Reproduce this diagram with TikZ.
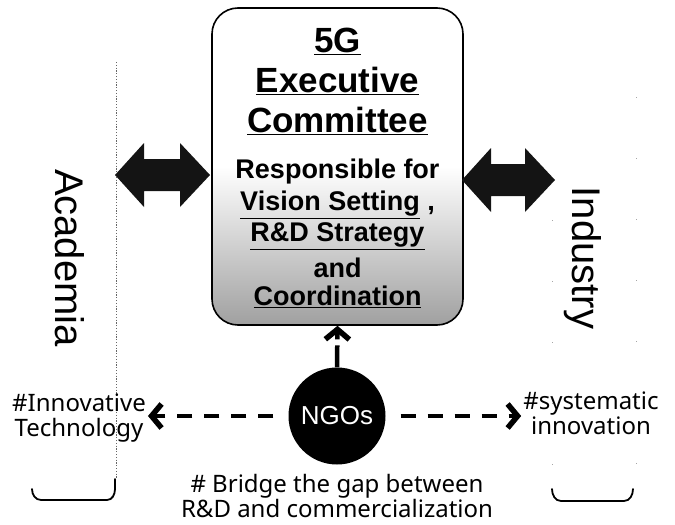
\documentclass[tikz,border=0pt]{standalone}
\usepackage{fontspec}
\setmainfont{Liberation Sans}
\newfontfamily\notefont{Noto Sans}
\usepackage{tikz}
\usetikzlibrary{arrows.meta, positioning}
\definecolor{boxgray}{RGB}{160, 160, 160}

\tikzset{
  execbox/.style={draw, line width=1.6pt, rounded corners=26pt, top color=white,
    bottom color=boxgray, middle color=white, minimum width=251pt, minimum height=317pt,
    inner sep=0pt},
  sidelabel/.style={font=\fontsize{40}{44}\selectfont, rotate=-90},
  fatarrow/.style={fill=black!92},
  ngobubble/.style={circle, fill=black, text=white, minimum size=97pt, inner sep=0pt,
    font=\fontsize{26}{30}\selectfont},
  notelabel/.style={align=center, inner sep=2pt, font=\notefont\fontsize{24}{25}\selectfont},
  dasharrow/.style={line width=4.5pt, dash pattern=on 15pt off 12pt,
    -{Straight Barb[length=10pt, width=24pt, line width=5.5pt]}},
  bracket/.style={line width=1.8pt, line cap=round},
  guide/.style={black!60, line width=0.7pt, dash pattern=on 1.2pt off 1.6pt}
}
\newcommand{\fatarrowat}[2]{\fill[fatarrow, shift={#1}] (0,0) -- (29,-32) -- (29,-16)
  -- (#2-30,-16) -- (#2-30,-32) -- (#2,0) -- (#2-30,32) -- (#2-30,16) -- (29,16)
  -- (29,32) -- cycle;}

\begin{document}
\begin{tikzpicture}[x=1pt, y=-1pt]
\useasboundingbox (0,0) rectangle (675,525);

\node[execbox] (exec) at (337.5,166.5) {\begin{minipage}[c][300pt][t]{248pt}\centering
  \vspace*{12pt}\fontsize{35}{40}\selectfont\bfseries
  \underline{5G}\\ \underline{Executive}\\ \underline{Committee}\par
  \vspace{15pt}\fontsize{27}{31}\selectfont
  Responsible for\\[1pt] \underline{Vision Setting} ,\\ \underline{R\&D Strategy}\\[5pt]
  and\\[-3pt] \underline{Coordination}\par
\end{minipage}};

\node[sidelabel] (acad) at (70,258) {Academia};
\node[sidelabel] (indus) at (583,258) {Industry};

\draw[guide] (116,62) -- (116,478);
\draw[black!35, line width=0.6pt, dash pattern=on 1pt off 60pt] (552,220) -- (552,480);
\draw[black!35, line width=0.6pt, dash pattern=on 1pt off 60pt] (636,97) -- (636,480);

\fatarrowat{(115,175)}{95}
\fatarrowat{(462,180)}{93}

\node[ngobubble] (ngo) at (337,416) {NGOs};

\node[notelabel] (innov) at (79,418) {\#Innovative\\Technology};
\node[notelabel] (sysinn) at (591,413) {\#systematic\\innovation};
\node[notelabel] (bridge) at (337,496) {\# Bridge the gap between\\R\&D and commercialization};

\draw[dasharrow, dash pattern=on 22pt off 6pt] (ngo.north) -- (exec.south);
\draw[dasharrow, shorten <=15pt] (ngo.west) -- (ngo.west -| innov.east);
\draw[dasharrow, shorten <=15pt] (ngo.east) -- (ngo.east -| sysinn.west);

\draw[bracket] (32,489) to[out=-90, in=180] (41,500) -- (107,500)
  to[out=0, in=-90] (115,489) -- (115,479);
\draw[bracket] (552,489) to[out=-90, in=180] (561,501) -- (624,501)
  to[out=0, in=-90] (633,489);
\end{tikzpicture}
\end{document}
